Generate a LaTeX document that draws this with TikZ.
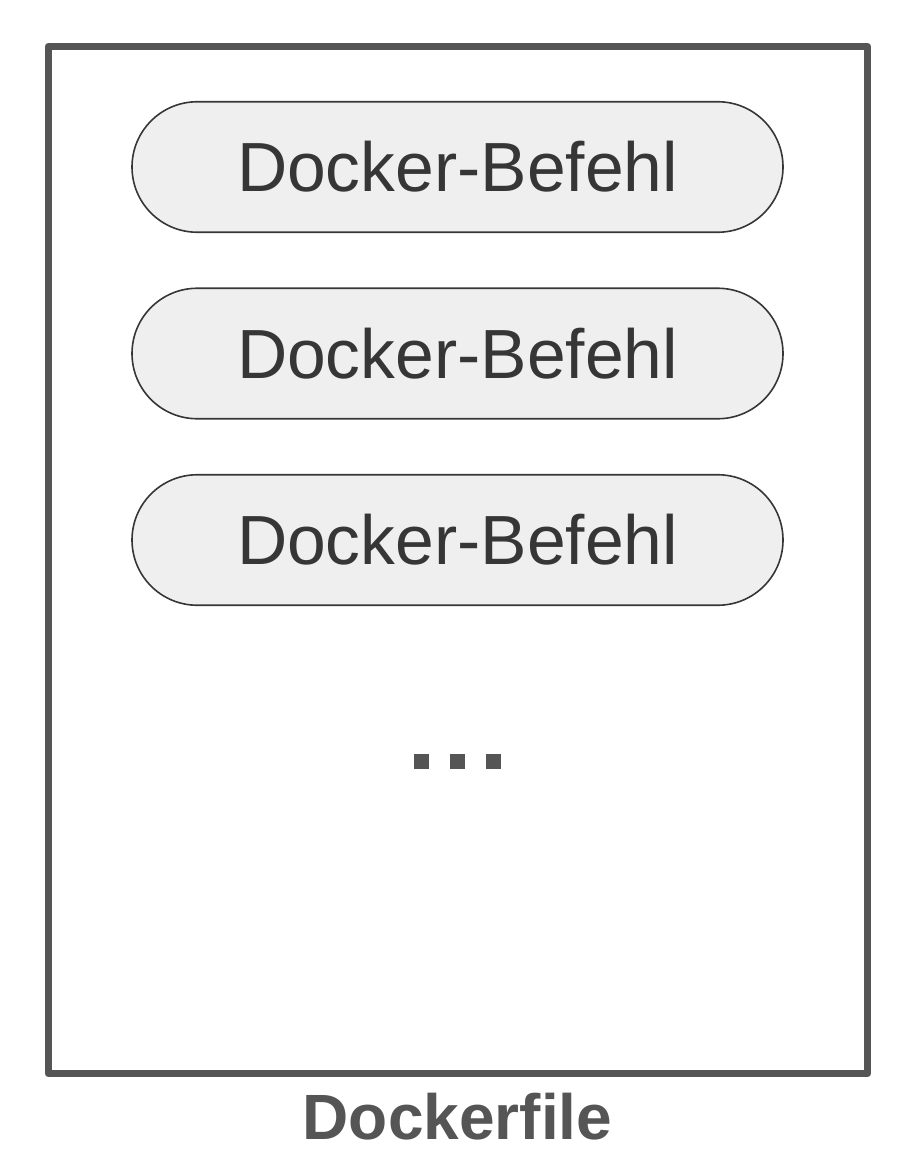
\documentclass[tikz,border=0pt]{standalone}
\usepackage{fontspec}
\setmainfont{Liberation Sans}
\usetikzlibrary{shapes.misc}
\definecolor{framec}{HTML}{555555}
\definecolor{pillfill}{HTML}{EFEFEF}
\definecolor{pilltext}{HTML}{363636}
\tikzset{
  px/.style={x=1pt,y=-1pt},
  pill/.style={draw=pilltext,fill=pillfill,line width=1.6pt,rounded rectangle,rounded rectangle arc length=180,minimum width=651pt,minimum height=130.5pt,inner sep=0pt,font=\fontsize{69.6}{70}\selectfont,text=pilltext},
  framebox/.style={draw=framec,line width=7pt,line join=round},
  dotbox/.style={fill=framec,minimum size=15pt,inner sep=0pt},
  capt/.style={font=\fontsize{64}{64}\selectfont\bfseries,text=framec}
}
\begin{document}
\begin{tikzpicture}[px]
\useasboundingbox (0,0) rectangle (912,1174);
\draw[framebox] (48,46.5) rectangle (867.5,1073.5);
\node[pill] (a) at (457.5,167) {Docker-Befehl};
\node[pill] (b) at (457.5,353.5) {Docker-Befehl};
\node[pill] (c) at (457.5,540) {Docker-Befehl};
\node[dotbox] (d1) at (421.5,761.5) {};
\node[dotbox] (d2) at (457.5,761.5) {};
\node[dotbox] (d3) at (493,761.5) {};
\node[capt] (cap) at (457.5,1116.5) {Dockerfile};
\end{tikzpicture}
\end{document}
